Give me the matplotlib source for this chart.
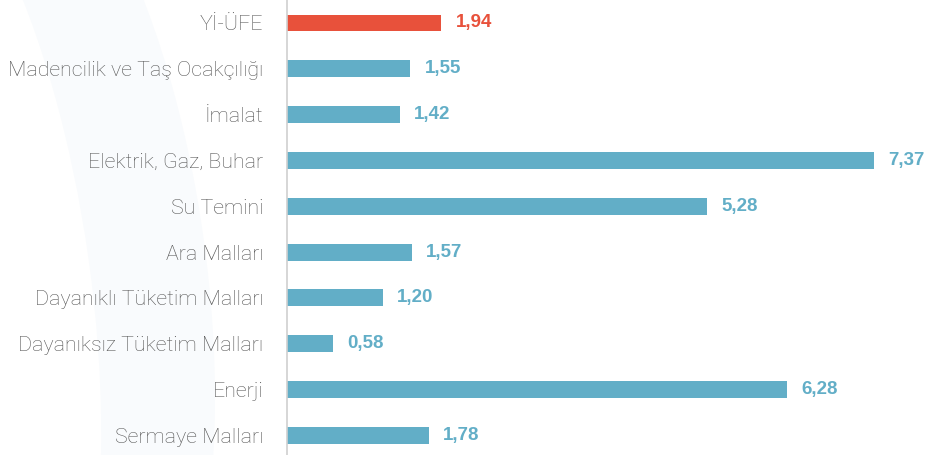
import matplotlib
matplotlib.use("Agg")
import matplotlib.pyplot as plt
from matplotlib.patches import Ellipse

categories = ["Yİ-ÜFE", "Madencilik ve Taş Ocakçılığı", "İmalat", "Elektrik, Gaz, Buhar",
              "Su Temini", "Ara Malları", "Dayanıklı Tüketim Malları",
              "Dayanıksız Tüketim Malları", "Enerji", "Sermaye Malları"]
values = [1.94, 1.55, 1.42, 7.37, 5.28, 1.57, 1.20, 0.58, 6.28, 1.78]
value_labels = ["1,94", "1,55", "1,42", "7,37", "5,28", "1,57", "1,20", "0,58", "6,28", "1,78"]

RED = "#E8513B"
TEAL = "#62AEC7"
colors = [RED] + [TEAL] * (len(values) - 1)

fig = plt.figure(figsize=(9.27, 4.55), dpi=100)
fig.patch.set_facecolor("white")

# faint watermark shape on the left
bg = fig.add_axes([0, 0, 1, 1], zorder=0)
bg.set_xlim(0, 927); bg.set_ylim(455, 0); bg.axis("off")
bg.add_patch(Ellipse((40, 260), 330, 900, angle=-8, facecolor="#F9FBFD", edgecolor="none"))
bg.add_patch(Ellipse((-60, 280), 300, 900, angle=-8, facecolor="white", edgecolor="none"))

ax = fig.add_axes([287 / 927, 0, 1 - 287 / 927, 1], zorder=1)
ax.patch.set_alpha(0)
y = list(range(len(values)))
ax.barh(y, values, height=0.37, color=colors)
ax.set_xlim(0, 640 / 79.6)
ax.set_ylim(9.43, -0.502)
ax.set_yticks(y)
ax.set_yticklabels(categories, fontsize=15.4, color="#555555", family=["Roboto", "DejaVu Sans"], fontweight="light")
ax.tick_params(axis="y", length=0, pad=17)
ax.set_xticks([])
for s in ["top", "right", "bottom"]:
    ax.spines[s].set_visible(False)
ax.spines["left"].set_color("#D0D0D0")
ax.spines["left"].set_linewidth(1.2)

for yi, v, lab, c in zip(y, values, value_labels, colors):
    ax.text(v + 0.18, yi, lab, va="center", ha="left", fontsize=13.5, fontweight="bold",
            color=c, family=["Liberation Sans", "DejaVu Sans"])

fig.savefig("out.png", dpi=100)
